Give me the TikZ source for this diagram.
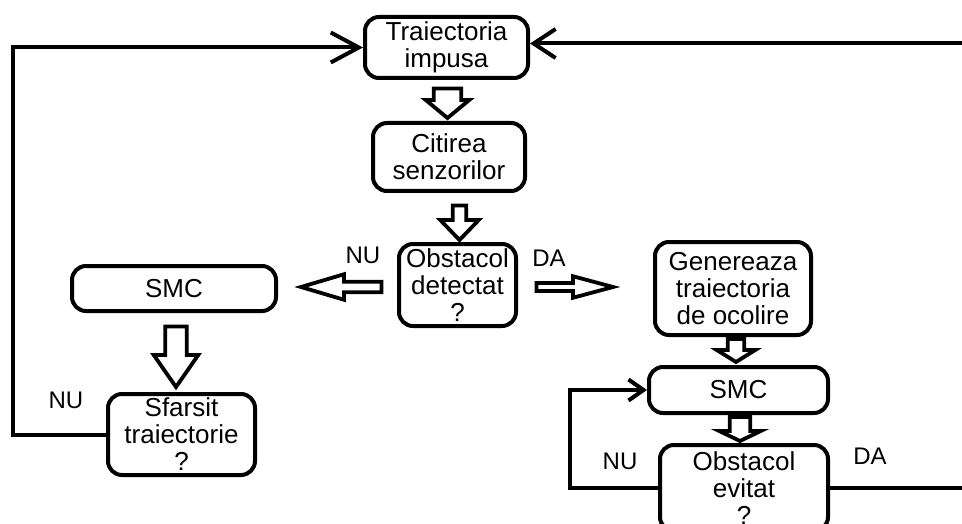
\documentclass[tikz,border=0pt]{standalone}
\usepackage{fontspec}
\setmainfont{Liberation Sans}
\usetikzlibrary{arrows.meta,calc}
% down block arrow: #1 from, #2 to, #3 x, #4 shaft half, #5 head half, #6 head length, #7 top gap, #8 tip gap
\newcommand{\blkdown}[8]{%
 \draw[blk] let \p1=(#1.south), \p2=(#2.north) in
  ({(#3-#4)*1pt},{\y1-#7pt}) -- ({(#3+#4)*1pt},{\y1-#7pt}) -- ({(#3+#4)*1pt},{\y2+#8pt+#6pt})
  -- ({(#3+#5)*1pt},{\y2+#8pt+#6pt}) -- ({#3*1pt},{\y2+#8pt}) -- ({(#3-#5)*1pt},{\y2+#8pt+#6pt})
  -- ({(#3-#4)*1pt},{\y2+#8pt+#6pt}) -- cycle;}
% horizontal block arrow: #1 from, #2 to, #3 y, #4 shaft half, #5 head half, #6 head length, #7 tail gap, #8 tip gap
\newcommand{\blkleft}[8]{%
 \draw[blk] let \p1=(#1.west), \p2=(#2.east) in
  ({\x1-#7pt},{-(#3-#4)*1pt}) -- ({\x1-#7pt},{-(#3+#4)*1pt}) -- ({\x2+#8pt+#6pt},{-(#3+#4)*1pt})
  -- ({\x2+#8pt+#6pt},{-(#3+#5)*1pt}) -- ({\x2+#8pt},{-#3*1pt}) -- ({\x2+#8pt+#6pt},{-(#3-#5)*1pt})
  -- ({\x2+#8pt+#6pt},{-(#3-#4)*1pt}) -- cycle;}
\newcommand{\blkright}[8]{%
 \draw[blk] let \p1=(#1.east), \p2=(#2.west) in
  ({\x1+#7pt},{-(#3-#4)*1pt}) -- ({\x1+#7pt},{-(#3+#4)*1pt}) -- ({\x2-#8pt-#6pt},{-(#3+#4)*1pt})
  -- ({\x2-#8pt-#6pt},{-(#3+#5)*1pt}) -- ({\x2-#8pt},{-#3*1pt}) -- ({\x2-#8pt-#6pt},{-(#3-#5)*1pt})
  -- ({\x2-#8pt-#6pt},{-(#3-#4)*1pt}) -- cycle;}
\begin{document}
\begin{tikzpicture}[x=1pt,y=-1pt,
  box/.style={draw,line width=4pt,rounded corners=14pt,inner sep=0pt,align=center,
    font=\fontsize{26}{27}\selectfont},
  lbl/.style={inner sep=0pt,font=\fontsize{24}{27}\selectfont},
  conn/.style={line width=4pt,line join=miter},
  blk/.style={draw,line width=3.8pt,fill=white,line join=miter},
]
\useasboundingbox (0,0) rectangle (962,524);
\clip (0,0) rectangle (962,524);

\node[box,minimum width=163pt,minimum height=61pt] (t1) at (446.5,47.5) {Traiectoria\\impusa};
\node[box,minimum width=152pt,minimum height=68pt] (cit) at (449,157) {Citirea\\senzorilor};
\node[box,minimum width=117pt,minimum height=82pt] (obs) at (457.5,285) {Obstacol\\detectat\\?};
\node[box,minimum width=204pt,minimum height=45pt] (smc1) at (174,288.5) {SMC};
\node[box,minimum width=147pt,minimum height=81pt] (sfa) at (181.5,434.5) {Sfarsit\\traiectorie\\?};
\node[box,minimum width=156pt,minimum height=93pt] (gen) at (733,288.5) {Genereaza\\traiectoria\\de ocolire};
\node[box,minimum width=179pt,minimum height=46pt] (smc2) at (738.5,390) {SMC};
\node[box,minimum width=168pt,minimum height=86pt] (ev) at (744,488) {Obstacol\\evitat\\?};

\blkdown{t1}{cit}{447.5}{13.75}{21.75}{18}{8.5}{3}
\blkdown{cit}{obs}{459.5}{6.75}{19.25}{20}{12.5}{2}
\blkdown{smc1}{sfa}{176}{10.75}{22.25}{32}{13.5}{5}
\blkdown{gen}{smc2}{736}{8.25}{19.25}{12}{2}{3}
\blkdown{smc2}{ev}{740}{10.25}{20.75}{10}{2}{2}
\blkleft{obs}{smc1}{287}{5.25}{12.75}{43}{15.5}{23}
\blkright{obs}{gen}{287}{4}{10.75}{40}{18.5}{40}

\coordinate (lx) at (13,0);
\coordinate (rx) at (966,0);
\coordinate (nx) at (570,0);
\draw[conn,-{Straight Barb[length=28pt,width=30pt]}] (sfa.west) -- (sfa.west -| lx) |- (t1.west);
\draw[conn,-{Straight Barb[length=22pt,width=29pt]}] (ev.east) -- (ev.east -| rx) |- ($(t1.east)+(0,-4)$);
\draw[conn,-{Straight Barb[length=15pt,width=21pt]}] (ev.west) -- (ev.west -| nx) |- (smc2.west);

\node[lbl] (nu1) at (363,255) {NU};
\node[lbl] (da1) at (549,258) {DA};
\node[lbl] (nu2) at (66,400) {NU};
\node[lbl] (nu3) at (620,461) {NU};
\node[lbl] (da2) at (870,456) {DA};
\end{tikzpicture}
\end{document}
